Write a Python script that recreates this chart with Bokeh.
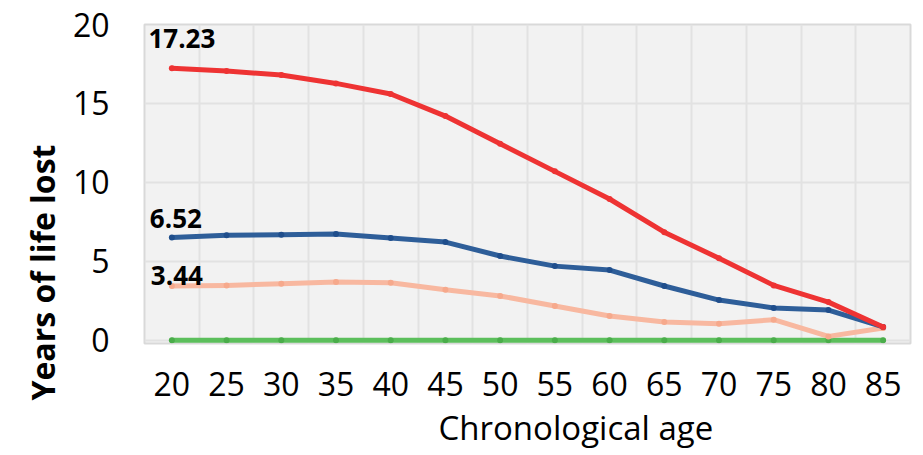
from bokeh.plotting import figure
from bokeh.models import Range1d, FixedTicker, Label, ColumnDataSource, Title
from bokeh.embed import file_html
from bokeh.resources import INLINE

# ---- data ----
ages = [20, 25, 30, 35, 40, 45, 50, 55, 60, 65, 70, 75, 80, 85]
red_series = [17.23, 17.05, 16.8, 16.27, 15.6, 14.2, 12.45, 10.7, 8.95, 6.85, 5.2, 3.48, 2.42, 0.84]
blue_series = [6.52, 6.66, 6.68, 6.73, 6.48, 6.22, 5.34, 4.7, 4.45, 3.44, 2.55, 2.05, 1.92, 0.85]
salmon_series = [3.44, 3.48, 3.59, 3.69, 3.65, 3.21, 2.81, 2.17, 1.54, 1.16, 1.05, 1.31, 0.25, 0.78]
green_series = [0, 0, 0, 0, 0, 0, 0, 0, 0, 0, 0, 0, 0, 0]
y_ticks = [0, 5, 10, 15, 20]
first_labels = ["17.23", "6.52", "3.44"]

FONT = "Open Sans"

p = figure(width=915, height=455, output_backend="svg", toolbar_location=None,
           x_range=Range1d(17.5, 87.5), y_range=Range1d(-0.2, 20),
           min_border_left=144, min_border_right=5, min_border_top=24, min_border_bottom=112)
p.background_fill_color = "#f2f2f2"
p.border_fill_color = "white"
p.outline_line_color = "#d9d9d9"
p.outline_line_width = 2

# axes
p.xaxis.ticker = FixedTicker(ticks=ages)
p.yaxis.ticker = FixedTicker(ticks=y_ticks)
for ax in (p.xaxis[0], p.yaxis[0]):
    ax.axis_line_color = None
    ax.major_tick_line_color = None
    ax.minor_tick_line_color = None
    ax.major_label_text_font = FONT
    ax.major_label_text_font_size = "32px"
    ax.major_label_text_color = "black"
p.xaxis.major_label_standoff = 22
p.yaxis.major_label_standoff = 29

# grid
p.xgrid.ticker = FixedTicker(ticks=[a + 2.5 for a in ages[:-1]])
p.ygrid.ticker = FixedTicker(ticks=y_ticks)
p.xgrid.grid_line_color = "#e2e2e2"
p.ygrid.grid_line_color = "#e2e2e2"
p.xgrid.grid_line_width = 2
p.ygrid.grid_line_width = 2

series = [
    (green_series, "#5cbf5c", "#4aad4a"),
    (salmon_series, "#f8b8a0", "#f6a98c"),
    (blue_series, "#2e5e99", "#1f4e8c"),
    (red_series, "#ee3333", "#ee3333"),
]
for ys, col, mcol in series:
    src = ColumnDataSource(dict(x=ages, y=ys))
    p.line("x", "y", source=src, line_color=col, line_width=5, line_join="round", line_cap="round")
    p.scatter("x", "y", source=src, size=6, fill_color=mcol, line_color=None)

# data labels at the first point
label_vals = [red_series[0], blue_series[0], salmon_series[0]]
label_dx = [10, 4, 5]
label_dy = [-30, -19, -11]
for txt, yv, dx, dy in zip(first_labels, label_vals, label_dx, label_dy):
    p.add_layout(Label(x=ages[0], y=yv, text=txt, x_offset=dx, y_offset=-dy,
                       text_font=FONT, text_font_size="26px", text_font_style="bold",
                       text_align="center", text_baseline="middle", text_color="black"))

# axis titles
p.add_layout(Title(text="Chronological age", align="left", offset=294,
                   text_font=FONT, text_font_size="33px", text_font_style="normal",
                   text_color="black", standoff=8), "below")
p.add_layout(Title(text="Years of life lost", align="left", offset=-57,
                   text_font=FONT, text_font_size="32px", text_font_style="bold",
                   text_color="black", standoff=12), "left")

open("out.html", "w").write(file_html(p, INLINE))
